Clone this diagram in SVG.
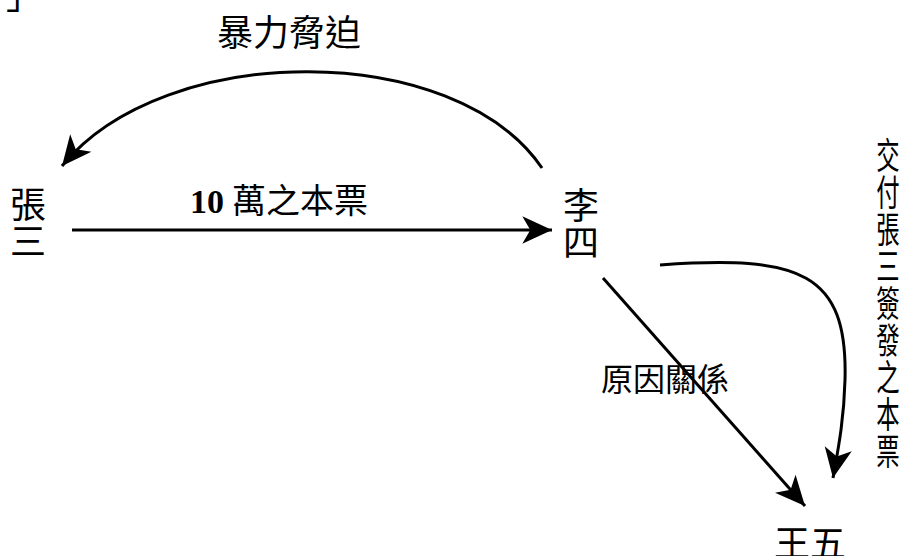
<svg xmlns="http://www.w3.org/2000/svg" width="914" height="556" viewBox="0 0 914 556">
  <style>
    .cjk { font-family: "Noto Sans CJK TC", "Noto Sans CJK SC", sans-serif; fill: #000; }
    .num { font-family: "Liberation Serif", serif; font-weight: bold; fill: #000; }
    .edge { fill: none; stroke: #000; stroke-width: 3; }
  </style>
  <defs>
    <marker id="arr" markerUnits="userSpaceOnUse" markerWidth="40" markerHeight="40" viewBox="-30 -15 35 30" refX="0" refY="0" orient="auto">
      <path d="M0,0 L-26,-12 L-19,0 L-26,12 Z" fill="#000"/>
    </marker>
  </defs>
  <rect width="914" height="556" fill="#fff"/>

  <text class="cjk" x="6" y="9" font-size="36">」</text>

  <g id="zhangsan">
    <text class="cjk" x="10" y="218" font-size="36">張</text>
    <text class="cjk" x="10" y="255" font-size="36">三</text>
  </g>
  <g id="lisi">
    <text class="cjk" x="563" y="219" font-size="36">李</text>
    <text class="cjk" x="563" y="256" font-size="36">四</text>
  </g>
  <g id="wangwu">
    <text class="cjk" x="774" y="557" font-size="36">王五</text>
  </g>

  <g id="connectors">
    <path class="edge" d="M542,168 C455,40 165,40 62,166" marker-end="url(#arr)"/>
    <path class="edge" d="M72,230 L552,230" marker-end="url(#arr)"/>
    <path class="edge" d="M603,278 L805,506" marker-end="url(#arr)"/>
    <path class="edge" d="M660,265 C800,255 848,272 845,380 C844,420 838,450 833,478" marker-end="url(#arr)"/>
  </g>

  <g id="labels">
    <text class="cjk" x="217" y="46" font-size="36">暴力脅迫</text>
    <text x="190" y="213" font-size="34"><tspan class="num">10</tspan><tspan class="cjk" dx="8">萬之本票</tspan></text>
    <text class="cjk" x="601" y="391" font-size="32">原因關係</text>
    <g transform="translate(888,0) scale(0.65,1)" class="cjk" font-size="36" text-anchor="middle">
      <text x="0" y="169">交</text>
      <text x="0" y="206">付</text>
      <text x="0" y="243">張</text>
      <text x="0" y="280">三</text>
      <text x="0" y="317">簽</text>
      <text x="0" y="354">發</text>
      <text x="0" y="391">之</text>
      <text x="0" y="428">本</text>
      <text x="0" y="465">票</text>
    </g>
  </g>
</svg>
